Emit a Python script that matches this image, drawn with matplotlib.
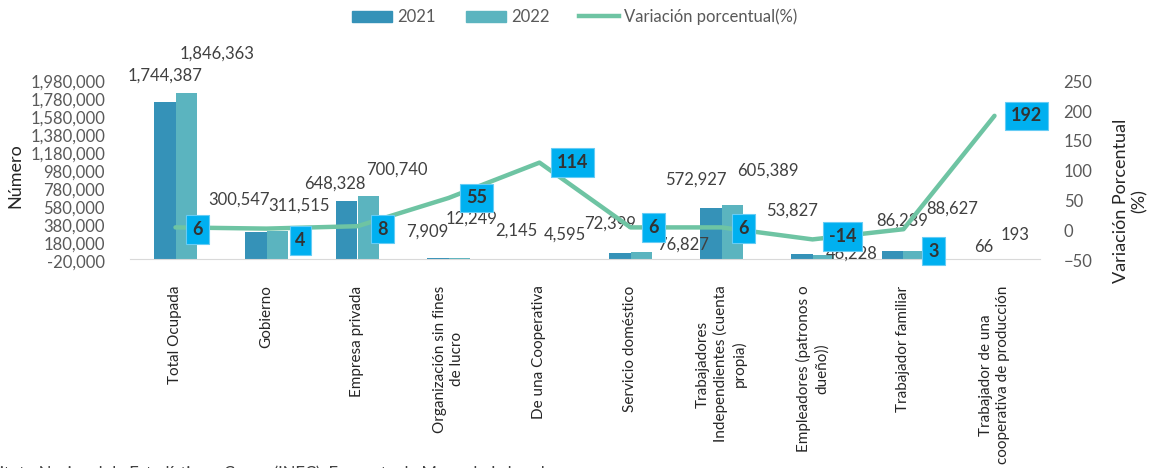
import matplotlib.pyplot as plt
import numpy as np
from matplotlib.patches import Patch
from matplotlib.lines import Line2D

plt.rcParams['font.family'] = ['Lato', 'DejaVu Sans']

categorias = ["Total Ocupada", "Gobierno", "Empresa privada",
              "Organización sin fines\nde lucro", "De una Cooperativa",
              "Servicio doméstico", "Trabajadores\nIndependientes (cuenta\npropia)",
              "Empleadores (patronos o\ndueño))", "Trabajador familiar",
              "Trabajador de una\ncooperativa de producción"]
v2021 = [1744387, 300547, 648328, 7909, 2145, 72399, 572927, 53827, 86239, 66]
v2022 = [1846363, 311515, 700740, 12249, 4595, 76827, 605389, 46228, 88627, 193]
variacion = [6, 4, 8, 55, 114, 6, 6, -14, 3, 192]

# label offsets in pixels (the original has hand-placed labels)
off21 = [(0, 19), (-17, 25), (-12, 9), (-10, 19), (-12, 20), (-10, 21), (-15, 20), (-10, 36), (10, 23), (0, 4)]
off22 = [(31, 31), (22, 18), (28, 19), (12, 31), (14, 16), (42, 0), (35, 26), (28, -7), (38, 35), (10, 16)]
offpct = [(22, -2), (34, -12), (25, -3), (28, 0), (33, 0), (23, 0), (22, -1), (30, 3), (30, -22), (32, 0)]

c21 = '#3592B8'
c22 = '#5BB4BF'
cline = '#6EC4A3'
cbox = '#00B0F0'
grey = '#595959'

fig = plt.figure(figsize=(11.56, 4.68), dpi=100)
ax = fig.add_axes([130 / 1156, 1 - 261 / 468, 910 / 1156, 180 / 468])
for s in ['top', 'left', 'right']:
    ax.spines[s].set_visible(False)
ax.spines['bottom'].set_position(('data', 0))
ax.spines['bottom'].set_color('#D9D9D9')

x = np.arange(len(categorias))
w = 0.24

ax.bar(x - w / 2, v2021, w, color=c21)
ax.bar(x + w / 2, v2022, w, color=c22)
ax.set_xlim(-0.5, len(categorias) - 0.5)
ax.set_ylim(-20000, 1980000)
ax.set_yticks(np.arange(-20000, 1980001, 200000))
ax.set_yticklabels([f"{t:,}" for t in np.arange(-20000, 1980001, 200000)])
ax.tick_params(axis='y', length=0, labelsize=12, labelcolor=grey, pad=18)
ax.set_xticks(x)
ax.tick_params(axis='x', length=0, pad=19)
ax.set_xticklabels(categorias, rotation=90, fontsize=11, multialignment='center',
                   color='#262626', va='top', ha='center', linespacing=1.3)

for i in range(len(categorias)):
    ax.annotate(f"{v2021[i]:,}", (x[i] - w / 2, v2021[i]), xytext=off21[i],
                textcoords='offset pixels', ha='center', va='bottom', fontsize=12, color='#404040')
    ax.annotate(f"{v2022[i]:,}", (x[i] + w / 2, v2022[i]), xytext=off22[i],
                textcoords='offset pixels', ha='center', va='bottom', fontsize=12, color='#404040')

ax2 = ax.twinx()
ax2.plot(x, variacion, color=cline, lw=3.2, solid_capstyle='round')
ax2.set_ylim(-50, 250)
ax2.set_yticks(np.arange(-50, 251, 50))
ax2.tick_params(axis='y', length=0, labelsize=12, labelcolor=grey, pad=17)
for s in ['top', 'left', 'right', 'bottom']:
    ax2.spines[s].set_visible(False)

for i in range(len(categorias)):
    ax2.annotate(str(variacion[i]), (x[i], variacion[i]), xytext=offpct[i],
                 textcoords='offset pixels', ha='center', va='center', fontsize=13,
                 fontweight='bold', color='#333333',
                 bbox=dict(boxstyle='square,pad=0.32', fc=cbox, ec='#66CCF5', lw=0.8))

fig.text(15 / 1156, 1 - 176 / 468, "Número", rotation=90, ha='center', va='center',
         fontsize=13, color='#262626')
fig.text(1130 / 1156, 1 - 201 / 468, "Variación Porcentual\n(%)", rotation=90, ha='center',
         va='center', fontsize=13, color='#262626', multialignment='center')

handles = [Patch(color=c21), Patch(color=c22), Line2D([], [], color=cline, lw=3.2)]
fig.legend(handles, ["2021", "2022", "Variación porcentual(%)"], loc='center',
           bbox_to_anchor=(575 / 1156, 1 - 17 / 468), ncol=3, frameon=False, fontsize=12,
           handlelength=2.4, handletextpad=0.3, columnspacing=1.8, labelcolor=grey)

fig.text(-0.075, 1 - 465 / 468, "Fuente: Instituto Nacional de Estadística y Censo (INEC). Encuesta de Mercado Laboral",
         va='top', fontsize=12, color='#404040')

fig.savefig('out.png', dpi=100)
